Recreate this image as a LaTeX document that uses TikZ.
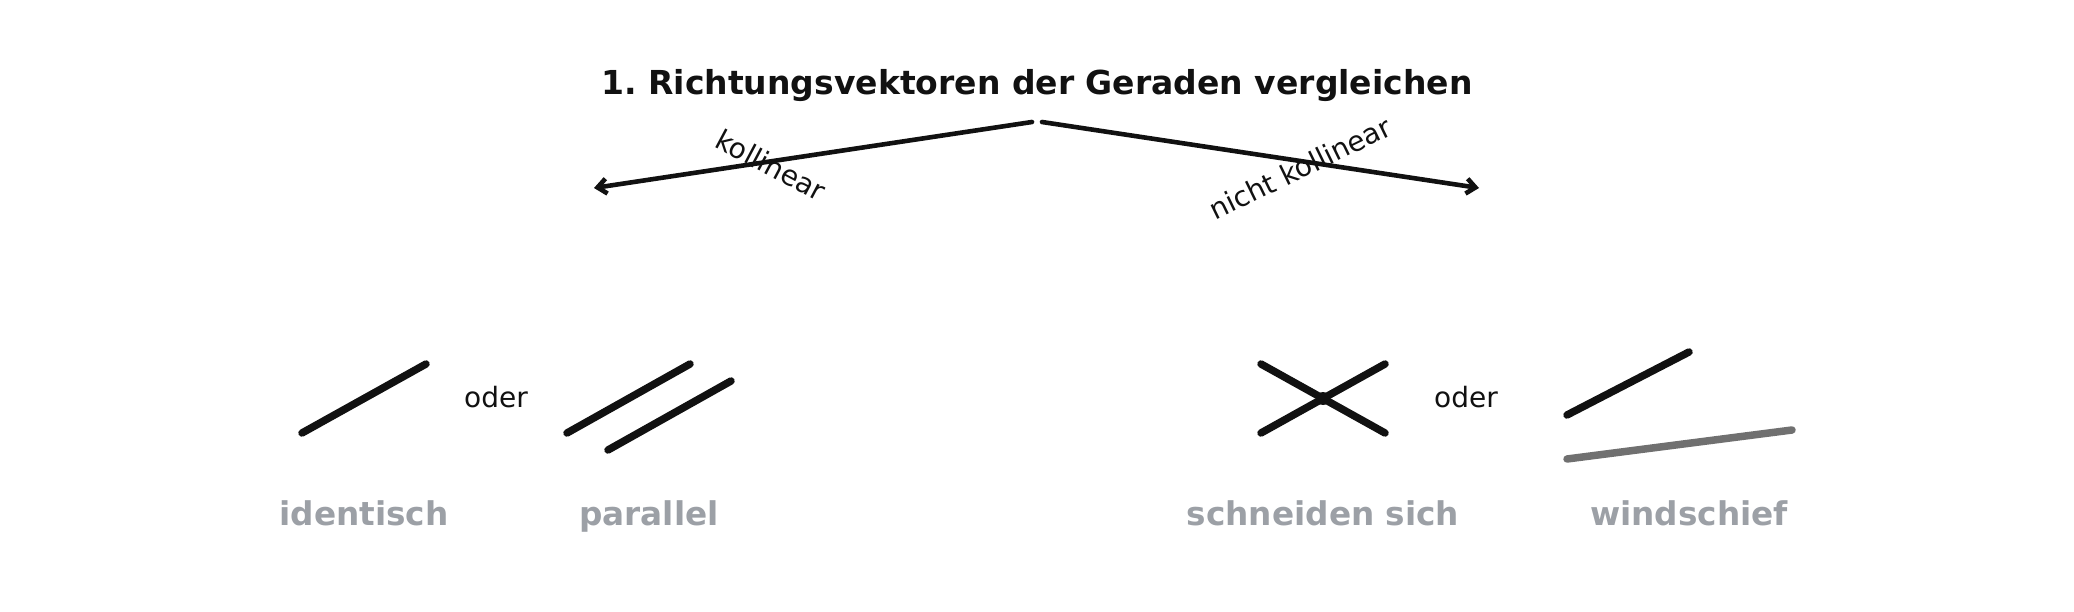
\documentclass[tikz,border=0pt]{standalone}
\usepackage{fontspec}
\setmainfont{DejaVu Sans}
\usetikzlibrary{arrows.meta}
\definecolor{ink}{HTML}{111111}
\definecolor{lbl}{HTML}{9CA0A6}
\definecolor{gline}{HTML}{707070}
\frenchspacing
\tikzset{
  arr/.style={draw=ink, line width=4.6pt, line cap=round, -{Straight Barb[length=9pt,width=15pt,line width=4.6pt]}},
  seg/.style={draw=ink, line width=7.5pt, line cap=round},
  gseg/.style={draw=gline, line width=7.5pt, line cap=round},
  title/.style={font=\fontsize{33}{36}\selectfont\bfseries, text=ink, inner sep=0pt},
  cat/.style={font=\fontsize{32.7}{36}\selectfont\bfseries, text=lbl, inner sep=0pt, anchor=base},
  small/.style={font=\fontsize{28}{32}\selectfont, text=ink, inner sep=0pt},
}
\begin{document}
\begin{tikzpicture}[x=1pt,y=-1pt]
\useasboundingbox (0,0) rectangle (2074,612);
\node[title] (t) at (1037,86) {1. Richtungsvektoren der Geraden vergleichen};
\coordinate (sl) at (1032,122);
\coordinate (sr) at (1042,122);
\coordinate (el) at (594,188);
\coordinate (er) at (1479,188);
\draw[arr] (sl) -- (el);
\draw[arr] (sr) -- (er);
\node[small, rotate=-28] (kl) at (771,165) {kollinear};
\node[small, rotate=26] (nk) at (1300,168) {nicht kollinear};
% identisch
\coordinate (i1) at (302,433); \coordinate (i2) at (426,364);
\draw[seg] (i1) -- (i2);
\node[small] (o1) at (496,397) {oder};
% parallel
\coordinate (p1) at (567,433); \coordinate (p2) at (690,364);
\coordinate (p3) at (608,450); \coordinate (p4) at (731,381);
\draw[seg] (p1) -- (p2);
\draw[seg] (p3) -- (p4);
% schneiden sich
\coordinate (x1) at (1261,364); \coordinate (x2) at (1385,433);
\coordinate (x3) at (1261,433); \coordinate (x4) at (1385,364);
\draw[seg] (x1) -- (x2);
\draw[seg] (x3) -- (x4);
\fill[ink] (1323,398.5) circle (6.5);
\node[small] (o2) at (1466,397) {oder};
% windschief
\coordinate (w1) at (1567,415); \coordinate (w2) at (1689,352);
\coordinate (w3) at (1567,459); \coordinate (w4) at (1792,430);
\draw[seg] (w1) -- (w2);
\draw[gseg] (w3) -- (w4);
% labels
\node[cat] (l1) at (364,525) {identisch};
\node[cat] (l2) at (649,525) {parallel};
\node[cat] (l3) at (1323,525) {schneiden sich};
\node[cat] (l4) at (1689,525) {windschief};
\end{tikzpicture}
\end{document}
